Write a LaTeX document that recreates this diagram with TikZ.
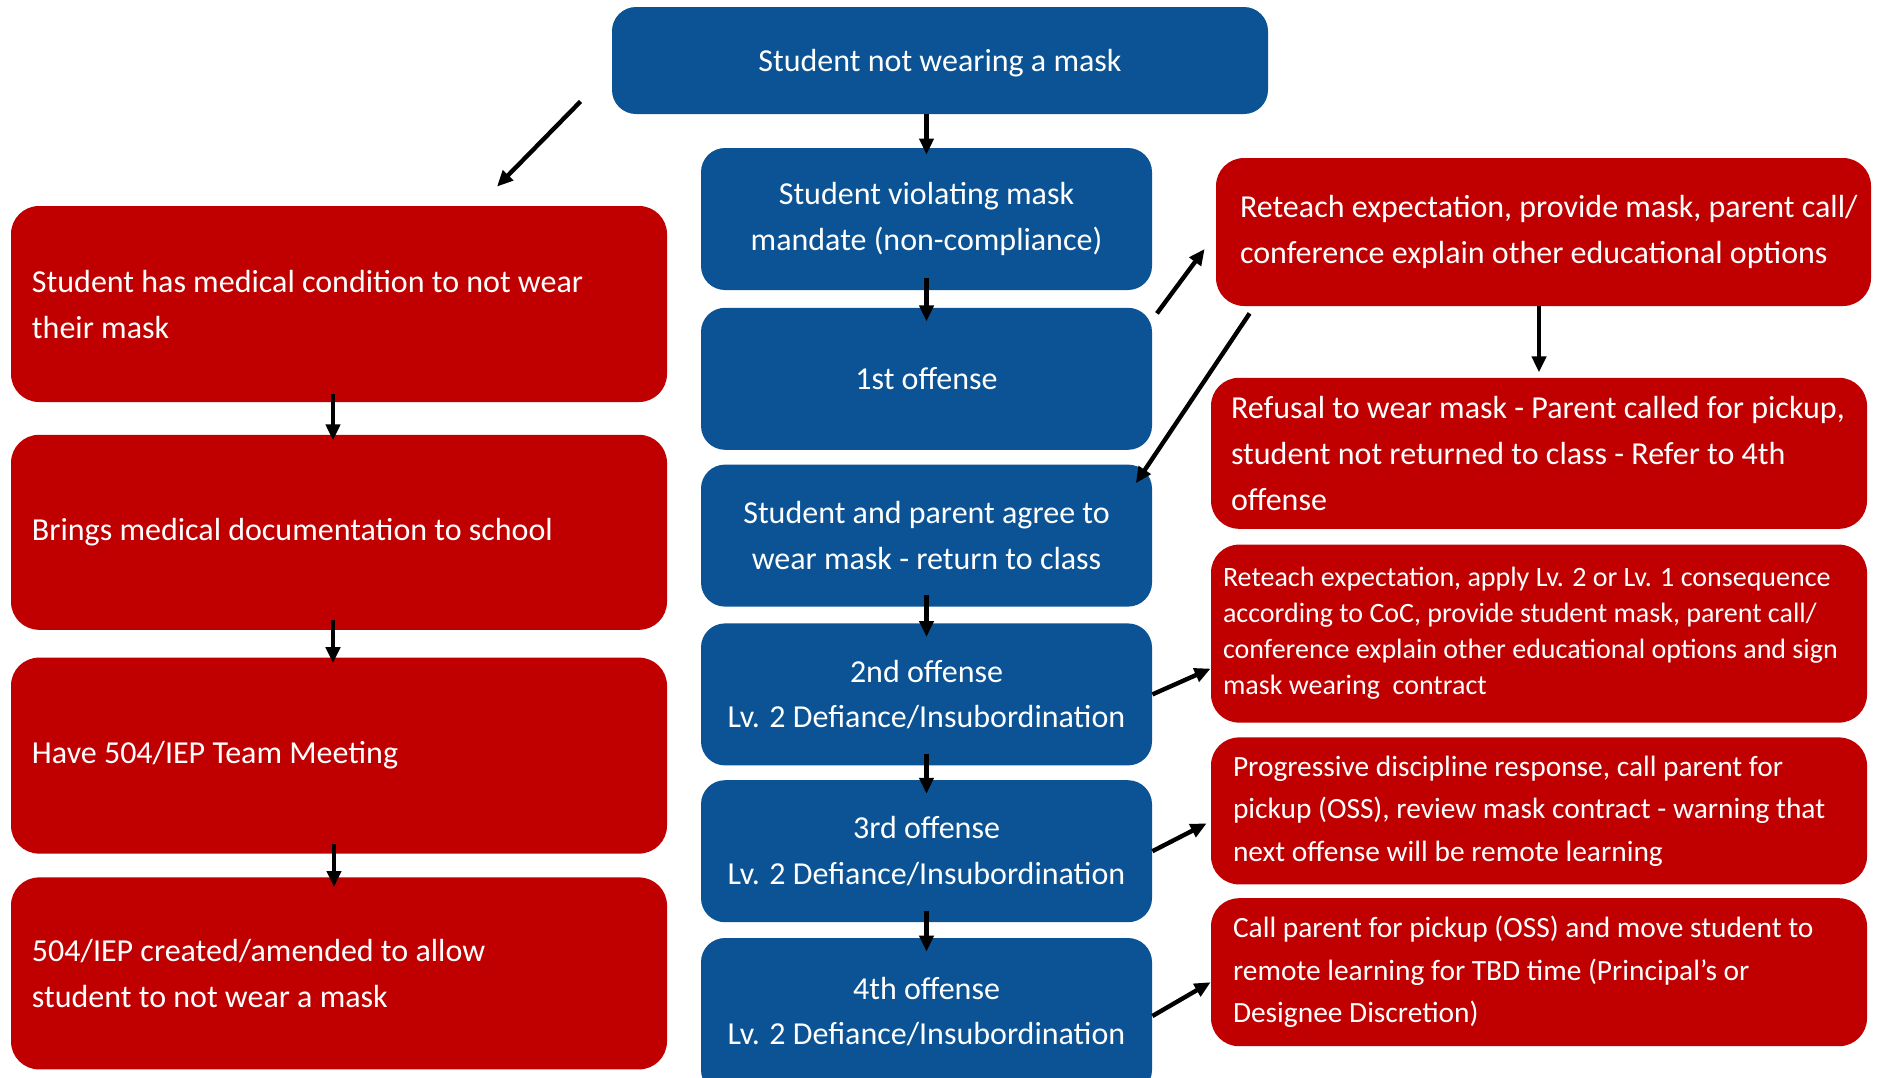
\documentclass[tikz,border=0pt]{standalone}
\usepackage{fontspec}
\setmainfont{Carlito}
\usetikzlibrary{positioning, arrows.meta}

\definecolor{maskblue}{RGB}{11,83,148}
\definecolor{maskred}{RGB}{192,0,0}

\begin{document}
\begin{tikzpicture}
		\tikzset{
			>={Triangle[length=8pt, width=7pt]},
			bluebox/.style={fill=maskblue, text=white, rounded corners=12pt, align=center, inner sep=0pt, minimum width=225.5pt, minimum height=71pt, font=\fontsize{16}{22.75}\selectfont},
			redbox/.style={fill=maskred, text=white, rounded corners=14pt, align=flush left, inner xsep=10.5pt, inner ysep=0pt, text width=307pt, minimum height=98pt, font=\fontsize{16}{23}\selectfont, execute at begin node={\spaceskip=0pt\xspaceskip=0pt\relax}},
			smalltext/.style={font=\fontsize{14}{18}\selectfont},
			midtext/.style={font=\fontsize{14.7}{21.25}\selectfont},
			arrow/.style={->, line width=2.2pt},
			chain/.style={arrow, shorten <=-6pt, shorten >=-7pt}
		}
		\useasboundingbox (0,0) rectangle (938.5pt,-538.5pt);
		
		% Start node
		\node[bluebox, minimum width=328pt, minimum height=53.5pt, text depth=0pt] (top) at (470pt,-30.25pt) {Student not wearing a mask};
		
		% Offense chain
		\node[bluebox] (viol) at (463.25pt,-109.5pt) {Student violating mask\\mandate (non-compliance)};
		\node[bluebox, below=8.5pt of viol] (first) {1st offense};
		\node[bluebox, below=7pt of first] (agree) {Student and parent agree to\\wear mask - return to class};
		\node[bluebox, below=8pt of agree] (second) {2nd offense\\Lv. 2 Defiance/Insubordination};
		\node[bluebox, below=7pt of second] (third) {3rd offense\\Lv. 2 Defiance/Insubordination};
		\node[bluebox, below=7.5pt of third, minimum height=78pt, text depth=5pt] (fourth) {4th offense\\Lv. 2 Defiance/Insubordination};
		
		% Medical path
		\node[redbox] (medical) at (169.5pt,-152pt) {Student has medical condition to not wear\\their mask};
		\node[redbox, below=16pt of medical, minimum height=97.5pt] (brings) {Brings medical documentation to school};
		\node[redbox, below=13.5pt of brings] (meeting) {Have 504/IEP Team Meeting};
		\node[redbox, below=11.5pt of meeting, minimum height=96pt] (created) {504/IEP created/amended to allow\\student to not wear a mask};
		
		% Responses
		\node[redbox, inner xsep=12pt, text width=303.5pt, minimum height=74pt] (reteach1) at (771.75pt,-116pt) {\mbox{Reteach expectation, provide mask, parent call/}\\conference explain other educational options};
		\node[redbox, inner xsep=10pt, text width=308pt, minimum height=75.5pt, below=35.5pt of reteach1, xshift=-2.25pt] (refusal) {Refusal to wear mask - Parent called for pickup,\\student not returned to class - Refer to 4th\\offense};
		\node[redbox, smalltext, inner xsep=6pt, text width=316pt, minimum height=89pt, below=7.5pt of refusal] (reteach2) {Reteach expectation, apply Lv. 2 or Lv. 1 consequence\\according to CoC, provide student mask, parent call/\\conference explain other educational options and sign\\mask wearing\ \ contract};
		\node[redbox, midtext, inner xsep=11pt, text width=306pt, minimum height=73.5pt, below=7pt of reteach2] (progressive) {Progressive discipline response, call parent for\\pickup (OSS), review mask contract - warning that\\next offense will be remote learning};
		\node[redbox, midtext, inner xsep=11pt, text width=306pt, minimum height=74pt, below=6.5pt of progressive] (callp) {Call parent for pickup (OSS) and move student to\\remote learning for TBD time (Principal’s or\\Designee Discretion)};
		
		% Free arrow ends
		\coordinate (medstart) at ([shift={(-15.5pt,6.5pt)}]top.south west);
		\coordinate (medtip) at ([shift={(79pt,9.5pt)}]medical.north);
		\coordinate (firstout) at ([shift={(2.25pt,-3pt)}]first.north east);
		\coordinate (reteachin) at ([shift={(-5.5pt,-8.5pt)}]reteach1.west);
		\coordinate (reteachout) at ([shift={(17pt,-3.5pt)}]reteach1.south west);
		\coordinate (agreein) at ([shift={(-8.25pt,-9.5pt)}]agree.north east);
		
		% Draw arrows between nodes
		\draw[arrow, shorten >=-3.5pt] (top.south -| viol.north) -- (viol.north);
		\draw[chain] (viol) -- (first);
		\draw[chain] (agree) -- (second);
		\draw[chain] (second) -- (third);
		\draw[chain] (third) -- (fourth);
		
		\draw[arrow] (medstart) -- (medtip);
		\draw[arrow, shorten <=-4pt, shorten >=-3pt] ([xshift=-3pt]medical.south) -- ([xshift=-3pt]brings.north);
		\draw[arrow, shorten <=-5pt, shorten >=-3pt] ([xshift=-3pt]brings.south) -- ([xshift=-3pt]meeting.north);
		\draw[arrow, shorten <=-5pt, shorten >=-5pt] ([xshift=-2.5pt]meeting.south) -- ([xshift=-2.5pt]created.north);
		
		\draw[arrow] (firstout) -- (reteachin);
		\draw[arrow] (reteachout) -- (agreein);
		\draw[arrow, shorten >=2.5pt] (reteach1.south -| refusal.north) -- (refusal.north);
		\draw[arrow] (second.east) -- ([yshift=-17.5pt]reteach2.west);
		\draw[arrow] (third.east) -- ([shift={(-2pt,-6.25pt)}]progressive.west);
		\draw[arrow] (fourth.east) -- ([yshift=-5pt]callp.west);
		
	\end{tikzpicture}
\end{document}
